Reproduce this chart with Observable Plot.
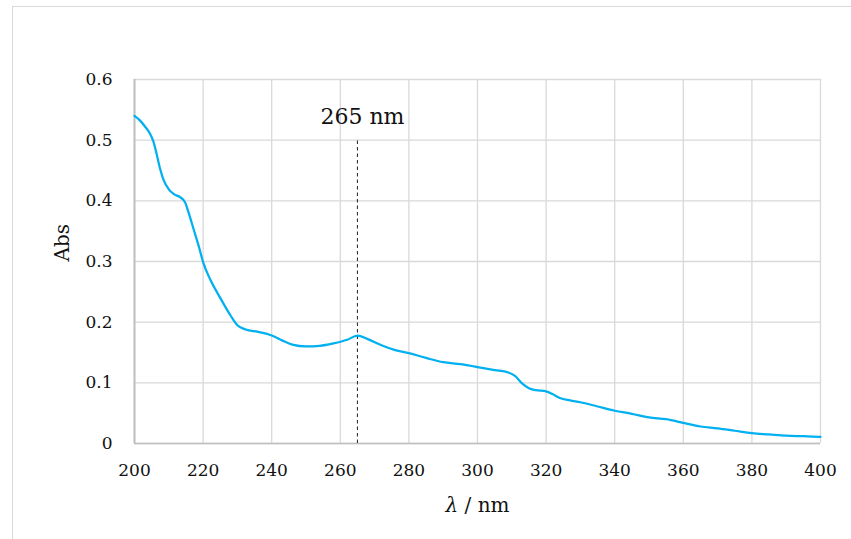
<!DOCTYPE html>
<html>
<head>
<meta charset="utf-8">
<script src="https://cdn.jsdelivr.net/npm/d3@7"></script>
<script src="https://cdn.jsdelivr.net/npm/@observablehq/plot@0.6"></script>
<style>
  html, body { margin: 0; padding: 0; background: #fff; overflow: hidden; }
  #wrap { position: relative; width: 851px; height: 539px; }
  #frame { position: absolute; left: 12px; top: 6px; width: 900px; height: 600px; border: 1.5px solid #d9d9d9; box-sizing: border-box; }
  #chart { position: absolute; left: 0; top: 0; }
</style>
</head>
<body>
<div id="wrap"><div id="frame"></div><div id="chart"></div></div>
<script>
const wavelength = [200, 201.5, 203, 204.5, 205.5, 206.5, 207.5, 208.5, 210, 211.5, 213.3, 214.8, 215.8, 217.3, 218.8, 220, 222.2, 225, 228, 230, 232.4, 236, 240, 243, 246, 250, 254, 258, 262, 265, 268, 272, 276, 280, 285, 290, 295, 300, 305, 309, 311, 313, 315, 317, 320, 322, 324, 327, 330, 335, 340, 345, 350, 355, 360, 365, 370, 375, 380, 385, 390, 395, 400];
const absorbance = [0.540, 0.533, 0.523, 0.511, 0.498, 0.476, 0.452, 0.434, 0.419, 0.411, 0.406, 0.397, 0.380, 0.352, 0.324, 0.299, 0.269, 0.240, 0.211, 0.195, 0.188, 0.184, 0.178, 0.170, 0.163, 0.160, 0.161, 0.165, 0.171, 0.178, 0.172, 0.162, 0.154, 0.149, 0.141, 0.134, 0.131, 0.126, 0.121, 0.117, 0.111, 0.099, 0.091, 0.088, 0.086, 0.081, 0.075, 0.071, 0.068, 0.061, 0.054, 0.049, 0.043, 0.040, 0.034, 0.028, 0.025, 0.021, 0.017, 0.015, 0.013, 0.012, 0.011];
const xTicks = [200, 220, 240, 260, 280, 300, 320, 340, 360, 380, 400];
const yTicks = [0, 0.1, 0.2, 0.3, 0.4, 0.5, 0.6];
const yTickLabels = ["0", "0.1", "0.2", "0.3", "0.4", "0.5", "0.6"];
const peakWavelength = [265];
const peakLineTop = 0.5;
const peakLabel = "265 nm";
const xTitle = "λ / nm";
const yTitle = "Abs";

const data = wavelength.map((w, i) => ({w, a: absorbance[i]}));

const chart = Plot.plot({
  width: 851,
  height: 539,
  marginLeft: 134,
  marginRight: 31,
  marginTop: 79,
  marginBottom: 96,
  style: {fontFamily: "'DejaVu Serif', serif", fontSize: "17px", color: "#111", background: "transparent"},
  x: {domain: [200, 400], label: null},
  y: {domain: [0, 0.6], label: null},
  marks: [
    Plot.gridX(xTicks, {stroke: "#d9d9d9", strokeOpacity: 1, strokeWidth: 1.3}),
    Plot.gridY(yTicks, {stroke: "#d9d9d9", strokeOpacity: 1, strokeWidth: 1.3}),
    Plot.axisX({ticks: xTicks, tickSize: 0, tickPadding: 20, label: null, fontSize: 17}),
    Plot.axisY({ticks: yTicks, tickSize: 0, tickPadding: 22, label: null, fontSize: 17, tickFormat: (d) => yTickLabels[yTicks.indexOf(d)]}),
    Plot.ruleX([200], {stroke: "#bfbfbf", strokeWidth: 2}),
    Plot.ruleY([0], {stroke: "#bfbfbf", strokeWidth: 1.6}),
    Plot.ruleX(peakWavelength, {y1: 0, y2: peakLineTop, stroke: "#333", strokeWidth: 1.1, strokeDasharray: "3.5,3"}),
    Plot.line(data, {x: "w", y: "a", stroke: "#00b0f0", strokeWidth: 2.25, curve: "monotone-x"}),
    Plot.text(peakWavelength, {x: (d) => d, y: peakLineTop, text: () => peakLabel, dy: -23, dx: 5, fontSize: 22, fill: "#111"}),
    Plot.text([yTitle], {frameAnchor: "left", text: (d) => d, rotate: -90, dx: -72, fontSize: 20, fill: "#111"}),
    Plot.text([xTitle], {frameAnchor: "bottom", text: (d) => d, dy: 68, fontSize: 20, fill: "#111"})
  ]
});

document.getElementById("chart").appendChild(chart);

// italic lambda in x title
d3.select(chart).selectAll("text").each(function() {
  if (this.textContent === xTitle) {
    const t = d3.select(this);
    t.text(null);
    t.append("tspan").attr("font-style", "italic").text("λ");
    t.append("tspan").text(" / nm");
  }
});
</script>
</body>
</html>
